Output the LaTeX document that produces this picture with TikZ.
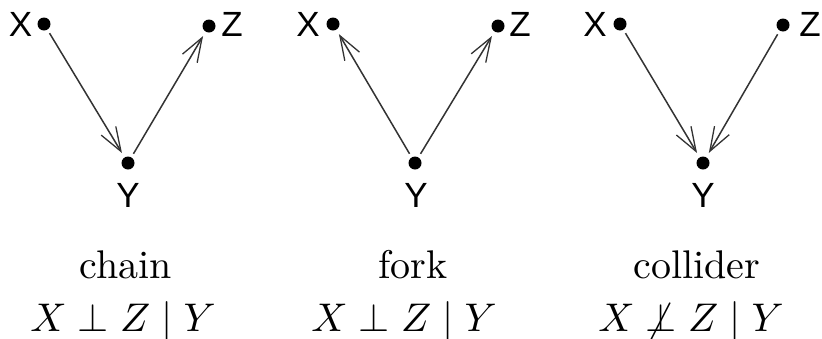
\documentclass[tikz,border=0pt]{standalone}
\usepackage{fontspec}
\newfontfamily\lblfont{Liberation Sans}
\usetikzlibrary{arrows.meta}
\begin{document}
\begin{tikzpicture}[x=1pt,y=-1pt,
  dot/.style={circle,fill=black,inner sep=0pt,minimum size=13pt},
  lbl/.style={inner sep=0pt,font=\lblfont\fontsize{35}{40}\selectfont},
  captext/.style={inner sep=0pt,anchor=base,scale=4,font=\fontsize{10}{12}\selectfont},
  conn/.style={draw=black!80,line width=1.5pt,shorten <=4pt,shorten >=5pt,
    -{Straight Barb[length=24pt,width=17pt,line width=1.3pt]}}]
\useasboundingbox (0,0) rectangle (822,338);
% chain
\node[dot] (cx) at (44,24) {};
\node[dot] (cz) at (209,26) {};
\node[dot] (cy) at (128,163) {};
\node[lbl] (cxl) at (20.5,24) {X};
\node[lbl] (czl) at (232,24) {Z};
\node[lbl] (cyl) at (128,195) {Y};
\draw[conn] (cx) -- (cy);
\draw[conn] (cy) -- (cz);
\node[captext] (ct) at (126,278) {chain};
\node[captext] (cm) at (123,331) {$X \perp Z \mid Y$};
% fork
\node[dot] (fx) at (333,24) {};
\node[dot] (fz) at (498,26) {};
\node[dot] (fy) at (415,163) {};
\node[lbl] (fxl) at (308,24) {X};
\node[lbl] (fzl) at (520,24) {Z};
\node[lbl] (fyl) at (416,195) {Y};
\draw[conn] (fy) -- (fx);
\draw[conn] (fy) -- (fz);
\node[captext] (ft) at (413,278) {fork};
\node[captext] (fm) at (404,331) {$X \perp Z \mid Y$};
% collider
\node[dot] (kx) at (620,24) {};
\node[dot] (kz) at (783,25) {};
\node[dot] (ky) at (703,163) {};
\node[lbl] (kxl) at (595,24) {X};
\node[lbl] (kzl) at (810,24) {Z};
\node[lbl] (kyl) at (703,195) {Y};
\draw[conn] (kx) -- (ky);
\draw[conn] (kz) -- (ky);
\node[captext] (kt) at (697,278) {collider};
\node[captext] (km) at (691,331) {$X \not\perp Z \mid Y$};
\end{tikzpicture}
\end{document}
